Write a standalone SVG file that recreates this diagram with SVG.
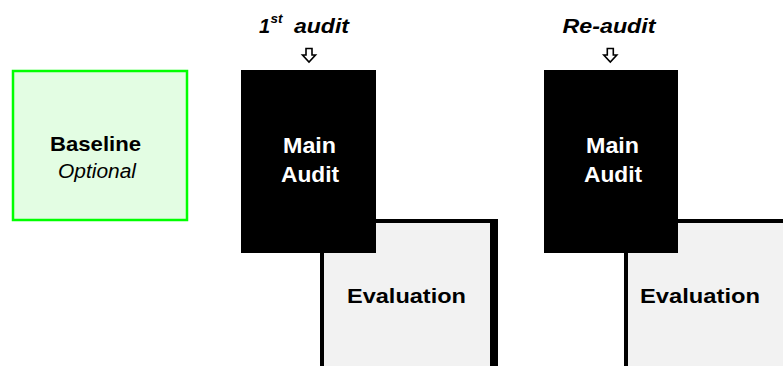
<svg xmlns="http://www.w3.org/2000/svg" width="783" height="366" viewBox="0 0 783 366">
<style>
text{font-family:"Liberation Sans",Arial,sans-serif;fill:#000}
.b{font-weight:bold}
.bi{font-weight:bold;font-style:italic}
.i{font-style:italic}
.w{fill:#fff}
.main{fill:#000}
.evb{fill:#000}
.evf{fill:#f2f2f2}
.arr{fill:#fff;stroke:#000;stroke-width:1.6;stroke-linejoin:miter}
</style>
<rect width="783" height="366" fill="#fff"/>
<g id="baseline">
<rect x="13" y="71" width="174" height="149" fill="#e3fde3" stroke="#00ff00" stroke-width="2.5"/>
<text class="b" x="50" y="151" font-size="21" textLength="91" lengthAdjust="spacingAndGlyphs">Baseline</text>
<text class="i" x="58" y="178" font-size="20" textLength="78" lengthAdjust="spacingAndGlyphs">Optional</text>
</g>
<g id="evaluation1">
<rect class="evb" x="320" y="219" width="178" height="160"/>
<rect class="evf" x="324" y="223" width="166" height="160"/>
<text class="b" x="347" y="303" font-size="21" textLength="119" lengthAdjust="spacingAndGlyphs">Evaluation</text>
</g>
<g id="main-audit1">
<rect class="main" x="241" y="70" width="135" height="183"/>
<text class="b w" x="283" y="153" font-size="22" textLength="53" lengthAdjust="spacingAndGlyphs">Main</text>
<text class="b w" x="281" y="181.5" font-size="22" textLength="58" lengthAdjust="spacingAndGlyphs">Audit</text>
</g>
<g id="label-first-audit">
<text class="bi" x="259" y="33" font-size="20">1<tspan x="270.5" y="22.5" font-size="12" textLength="12" lengthAdjust="spacingAndGlyphs">st</tspan> <tspan x="294" y="33" textLength="55" lengthAdjust="spacingAndGlyphs">audit</tspan></text>
</g>
<g id="evaluation2">
<rect class="evb" x="624" y="219" width="180" height="160"/>
<rect class="evf" x="628" y="223" width="180" height="160"/>
<text class="b" x="640" y="303" font-size="21" textLength="120" lengthAdjust="spacingAndGlyphs">Evaluation</text>
</g>
<g id="main-audit2">
<rect class="main" x="544" y="70" width="134" height="183"/>
<text class="b w" x="586" y="153" font-size="22" textLength="53" lengthAdjust="spacingAndGlyphs">Main</text>
<text class="b w" x="584" y="181.5" font-size="22" textLength="58" lengthAdjust="spacingAndGlyphs">Audit</text>
</g>
<g id="label-re-audit">
<text class="bi" x="562.5" y="33" font-size="20" textLength="93" lengthAdjust="spacingAndGlyphs">Re-audit</text>
</g>
<g id="connectors">
<path class="arr" d="M306,48.5 H312 V55 H315.5 L309,62 L302.5,55 H306 Z"/>
<path class="arr" d="M607.3,48.5 H613.3 V55 H616.8 L610.3,62 L603.8,55 H607.3 Z"/>
</g>
</svg>
